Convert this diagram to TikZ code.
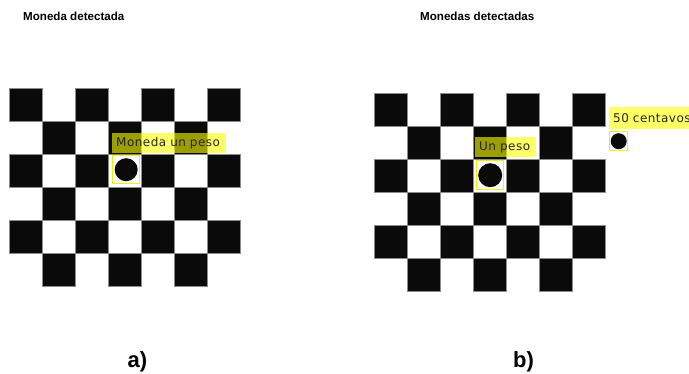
\documentclass[tikz,border=0pt]{standalone}
\usepackage{fontspec}
\setmainfont{Liberation Sans}
\newfontfamily\lblfont[LetterSpace=4]{DejaVu Sans}
\definecolor{sqblack}{HTML}{0A0A0A}
\definecolor{hl}{HTML}{FFFF00}
\definecolor{boxy}{HTML}{F2F200}
\begin{document}
\begin{tikzpicture}[x=1pt,y=-1pt,
  sq/.style={fill=sqblack, draw=black!45, line width=0.5pt},
  coin/.style={circle, fill=sqblack, inner sep=0pt},
  coinbox/.style={draw=boxy, line width=1.4pt, inner sep=0pt, anchor=north west},
  lbl/.style={fill=hl, fill opacity=0.6, text opacity=1, text=black!85,
    font=\lblfont\fontsize{12}{13}\selectfont, anchor=north west,
    inner ysep=0pt, inner xsep=4pt, align=left},
  title/.style={font=\bfseries\fontsize{11.6}{13}\selectfont, anchor=west, inner sep=0pt},
  tag/.style={font=\bfseries\fontsize{22}{26}\selectfont}]
\useasboundingbox[fill=white] (0,0) rectangle (689,374);
\node[title] (t1) at (23,16) {Moneda detectada};
\node[title] (t2) at (420,16) {Monedas detectadas};
% left board
\foreach \r in {0,...,5}{\foreach \c in {0,...,6}{%
  \pgfmathtruncatemacro{\oddq}{mod(\r+\c,2)}%
  \ifnum\oddq=0 \draw[sq] ({9+33.1*\c},{88+33*\r}) rectangle ++(33.1,33);\fi}}
% right board
\foreach \r in {0,...,5}{\foreach \c in {0,...,6}{%
  \pgfmathtruncatemacro{\oddq}{mod(\r+\c,2)}%
  \ifnum\oddq=0 \draw[sq] ({374+33.1*\c},{93+33*\r}) rectangle ++(33.1,33);\fi}}
% left coin
\node[coinbox, minimum width=27pt, minimum height=28pt] (b1) at (112,155) {};
\node[coin, minimum size=23pt] (c1) at (b1.center) {};
\node[lbl, minimum height=20pt, text width=106pt] (l1) at (112,133) {Moneda un peso};
% right coins
\node[coinbox, minimum width=27pt, minimum height=29pt] (b2) at (476,160) {};
\node[coin, minimum size=24pt] (c2) at (b2.center) {};
\node[lbl, minimum height=20pt, text width=53pt] (l2) at (475,137) {Un peso};
\node[coinbox, minimum width=18pt, minimum height=19pt] (b3) at (609,131) {};
\node[coin, minimum size=16pt] (c3) at (b3.center) {};
\node[lbl, minimum height=22pt, text width=86pt] (l3) at (609,107) {50 centavos};
\node[tag] (a) at (137.5,362) {a)};
\node[tag] (b) at (523.5,362) {b)};
\end{tikzpicture}
\end{document}
